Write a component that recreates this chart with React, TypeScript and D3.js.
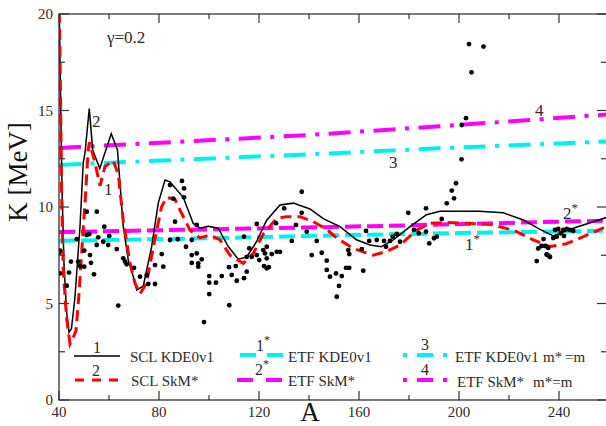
import React from "react";
import * as d3 from "d3";

type P = [number, number];

const xTicksMajor = [40, 80, 120, 160, 200, 240];
const xTicksMinor = [60, 100, 140, 180, 220, 260];
const yTicksMajor = [0, 5, 10, 15, 20];
const yTicksMinor = [2.5, 7.5, 12.5, 17.5];

// Experimental points (A, K)
const expPoints: P[] = [
  [40.0, 7.63], [40.4, 7.74], [40.4, 6.56], [44.0, 6.6], [43.1, 5.92], [44.8, 7.17], [47.1, 8.33], [47.7, 7.17],
  [48.4, 6.94], [50.1, 6.91], [50.1, 7.74], [51.1, 9.76], [51.1, 8.55], [52.1, 8.59], [52.4, 7.51], [52.8, 7.11],
  [54.0, 6.51], [55.1, 9.76], [55.7, 8.43], [55.1, 8.03], [58.1, 8.98], [57.7, 8.2], [60.1, 8.5], [59.7, 8.03],
  [63.1, 7.82], [63.7, 4.89], [65.7, 7.34], [66.4, 7.17], [67.1, 7.03], [70.0, 6.85], [72.4, 6.39], [75.1, 6.48],
  [75.7, 6.01], [78.4, 6.01], [78.4, 6.99], [81.1, 7.56], [81.7, 6.91], [84.4, 11.14], [86.4, 9.24], [84.4, 8.29],
  [85.7, 10.43], [89.2, 11.35], [90.0, 10.96], [90.0, 10.5], [87.5, 8.33], [90.8, 7.94], [93.1, 8.29], [93.1, 7.51],
  [93.1, 7.1], [95.1, 7.6], [95.7, 7.08], [95.1, 9.07], [97.1, 7.29], [95.7, 6.91], [100.1, 6.42], [100.1, 6.08],
  [102.8, 6.08], [105.1, 6.42], [100.1, 5.49], [108.1, 4.91], [98.0, 4.04], [108.0, 6.88], [109.1, 6.48], [110.7, 6.94],
  [111.1, 6.18], [114.0, 6.31], [115.1, 6.65], [115.1, 7.42], [114.0, 8.46], [116.1, 7.86], [117.1, 7.42], [119.1, 9.12],
  [119.1, 7.51], [120.1, 7.25], [121.7, 7.77], [123.1, 7.94], [122.4, 7.6], [123.1, 7.34], [122.0, 6.94], [123.1, 6.82],
  [123.9, 6.88], [125.1, 7.56], [127.1, 7.68], [128.4, 7.68], [126.8, 9.16], [130.1, 9.93], [133.1, 8.24], [134.8, 9.07],
  [137.1, 10.79], [137.1, 9.7], [139.1, 8.72], [141.1, 7.51], [143.1, 8.24], [145.1, 7.63], [147.1, 7.22], [147.1, 6.74],
  [148.4, 6.39], [150.8, 6.56], [153.1, 6.42], [152.0, 5.91], [151.1, 5.35], [154.8, 6.85], [156.1, 6.85], [155.7, 7.77],
  [156.1, 7.56], [161.1, 7.82], [161.7, 6.7], [162.8, 8.76], [164.1, 8.24], [167.1, 8.29], [170.0, 8.24], [170.8, 7.94],
  [172.4, 8.24], [173.5, 8.46], [175.1, 8.6], [176.4, 8.2], [179.7, 9.7], [182.0, 8.81], [183.9, 8.64], [186.8, 9.93],
  [186.8, 8.72], [188.1, 8.12], [190.0, 8.38], [191.1, 8.46], [193.1, 9.38], [195.1, 10.19], [197.1, 10.85], [198.0, 10.45],
  [198.8, 11.23], [201.0, 12.47], [201.1, 14.25], [202.8, 14.6], [205.0, 16.98], [204.0, 18.44], [209.8, 18.31],
  [231.1, 7.2], [231.7, 7.85], [233.0, 7.98], [233.8, 8.34], [234.4, 7.98], [235.0, 7.54], [235.7, 7.49], [236.4, 7.41],
  [235.7, 7.88], [237.7, 8.39], [238.4, 8.81], [239.1, 8.46], [239.7, 8.86], [240.7, 8.64], [241.7, 8.81], [242.0, 8.5],
  [243.1, 8.86], [244.4, 8.81], [245.7, 8.76],
];

// 1: SCL KDE0v1
const sclKde: P[] = [
  [40, 21], [40.6, 16], [41.2, 11], [42, 7], [43, 4.6], [44, 3.5], [45, 3.7], [46.4, 5.35], [48.4, 9], [49.7, 12.3],
  [50.4, 12.8], [52.1, 15.1], [53.5, 12.95], [56.3, 12.0], [60.9, 13.8], [63.4, 12.95], [65.7, 9.0], [67.7, 7.25],
  [69.7, 6.4], [71.1, 5.7], [73.7, 5.9], [77, 7.9], [79.7, 10.2], [82.4, 11.4], [84.4, 11.3], [89.7, 10.5], [93.7, 9.15],
  [96.4, 8.9], [99.7, 9.0], [103.7, 8.9], [107.7, 7.95], [111.7, 7.3], [115, 7.4], [119, 8.2], [123, 9.3], [128.4, 10.1],
  [133.7, 10.2], [140.4, 9.9], [145.7, 9.4], [152.4, 8.98], [159, 8.3], [164.4, 8.03], [169, 7.94], [173.7, 8.3],
  [180.4, 8.98], [187, 9.6], [192.4, 9.78], [208, 9.78], [217.7, 9.7], [225.7, 9.33], [232.4, 8.84], [237.7, 8.5],
  [245.7, 8.9], [260, 9.5],
];

// 2: SCL SkM*
const sclSkm: P[] = [
  [40, 21], [40.5, 17], [41, 11], [41.7, 6.7], [43, 4.3], [44.4, 2.9], [45.6, 3.2], [46.8, 3.6], [48, 5.5], [49, 7.5],
  [50.4, 10.2], [51.7, 13.0], [52.2, 13.35], [54.4, 12.3], [56.4, 11.1], [58.4, 12.1], [61.7, 12.4], [63.7, 11.7],
  [65.7, 9.3], [68.4, 7.1], [70.4, 6.05], [72.4, 5.5], [75, 6.05], [77.7, 7.9], [81, 10.0], [83, 10.5], [86.4, 10.4],
  [88.4, 9.84], [92.4, 8.8], [96.4, 8.4], [100.4, 8.55], [104.4, 8.3], [108.4, 7.5], [113.7, 7.08], [117.7, 7.6],
  [121.7, 8.6], [127, 9.4], [131, 9.5], [136.4, 9.5], [141.7, 9.24], [147, 8.85], [151, 8.4], [157.7, 7.85],
  [165.7, 7.5], [171, 7.7], [176.4, 8.03], [183, 8.8], [188.4, 9.15], [195, 9.2], [212.4, 9.1], [221.7, 8.8],
  [229.7, 8.3], [236.4, 7.95], [243, 8.1], [249.7, 8.46], [260, 9.05],
];

// 1*: ETF KDE0v1, 2*: ETF SkM*, 3: ETF KDE0v1 m*=m, 4: ETF SkM* m*=m
const etfKde: P[] = [[40, 8.25], [100, 8.38], [150, 8.53], [200, 8.65], [260, 8.77]];
const etfSkm: P[] = [[40, 8.7], [100, 8.84], [170, 9.02], [240, 9.24], [260, 9.29]];
const etfKdeM: P[] = [[40, 12.18], [140, 12.73], [192, 13.04], [260, 13.4]];
const etfSkmM: P[] = [[40, 13.06], [140, 13.73], [192, 14.18], [260, 14.8]];

const legendNames = ["SCL KDE0v1", "SCL SkM*", "ETF KDE0v1", "ETF SkM*", "ETF KDE0v1", "ETF SkM*"];

const FONT = "Liberation Serif, Times New Roman, Times, DejaVu Serif, serif";
const AX = "#333";
const TXT = "#2a2a2a";
const RED = "#ff0000";
const CYAN = "#00f0f0";
const MAG = "#ff00ff";

export default function App() {
  const W = 606;
  const H = 426;
  const x = d3.scaleLinear().domain([40, 260]).range([59, 609]);
  const y = d3.scaleLinear().domain([0, 20]).range([400, 14]);
  const line = d3
    .line<P>()
    .x((d) => x(d[0]))
    .y((d) => y(d[1]))
    .curve(d3.curveLinear);

  const [x0, x1] = x.range();
  const [y0, y1] = y.range();
  const tf = { fontFamily: FONT };

  return (
    <svg
      width={W}
      height={H}
      viewBox={`0 0 ${W} ${H}`}
      style={{ position: "absolute", left: 0, top: 0, background: "#fff", fontFamily: FONT }}
    >
      <defs>
        <clipPath id="plotclip">
          <rect x={x0} y={y1} width={x1 - x0} height={y0 - y1} />
        </clipPath>
      </defs>

      <g clipPath="url(#plotclip)">
        <path d={line(etfSkmM) || ""} fill="none" stroke={MAG} strokeWidth={4} strokeDasharray="22 9.5 4 9.5" />
        <path d={line(etfKdeM) || ""} fill="none" stroke={CYAN} strokeWidth={4} strokeDasharray="22 9.5 4 9.5" />
        <path d={line(etfSkm) || ""} fill="none" stroke={MAG} strokeWidth={4} strokeDasharray="16 6" />
        <path d={line(etfKde) || ""} fill="none" stroke={CYAN} strokeWidth={4} strokeDasharray="16 6" />
        <path d={line(sclKde) || ""} fill="none" stroke="#000" strokeWidth={1.5} strokeLinejoin="miter" />
        <path d={line(sclSkm) || ""} fill="none" stroke={RED} strokeWidth={3} strokeDasharray="11 6" />
        {expPoints.map((d, i) => (
          <circle key={i} cx={x(d[0])} cy={y(d[1])} r={2.4} fill="#000" />
        ))}
      </g>

      <rect x={x0} y={y1} width={x1 - x0} height={y0 - y1} fill="none" stroke={AX} strokeWidth={1.3} />

      {xTicksMajor.map((t) => (
        <g key={"xm" + t}>
          <line x1={x(t)} x2={x(t)} y1={y0} y2={y0 - 9} stroke={AX} strokeWidth={1.2} />
          <line x1={x(t)} x2={x(t)} y1={y1} y2={y1 + 9} stroke={AX} strokeWidth={1.2} />
          <text x={x(t)} y={417} fontSize={15} textAnchor="middle" fill={TXT} style={tf}>
            {t}
          </text>
        </g>
      ))}
      {xTicksMinor.map((t) => (
        <g key={"xn" + t}>
          <line x1={x(t)} x2={x(t)} y1={y0} y2={y0 - 5} stroke={AX} strokeWidth={1.2} />
          <line x1={x(t)} x2={x(t)} y1={y1} y2={y1 + 5} stroke={AX} strokeWidth={1.2} />
        </g>
      ))}

      {yTicksMajor.map((t) => (
        <g key={"ym" + t}>
          <line x1={x0} x2={x0 + 10} y1={y(t)} y2={y(t)} stroke={AX} strokeWidth={1.2} />
          <line x1={x1} x2={x1 - 12} y1={y(t)} y2={y(t)} stroke={AX} strokeWidth={1.2} />
          <text x={53} y={y(t) + 5} fontSize={15} textAnchor="end" fill={TXT} style={tf}>
            {t}
          </text>
        </g>
      ))}
      {yTicksMinor.map((t) => (
        <g key={"yn" + t}>
          <line x1={x0} x2={x0 + 6} y1={y(t)} y2={y(t)} stroke={AX} strokeWidth={1.2} />
          <line x1={x1} x2={x1 - 8} y1={y(t)} y2={y(t)} stroke={AX} strokeWidth={1.2} />
        </g>
      ))}

      <text x={310} y={421} fontSize={27} textAnchor="middle" fill="#111" style={tf}>
        A
      </text>
      <text transform="translate(27,172) rotate(-90)" fontSize={27} textAnchor="middle" fill="#111" style={tf}>
        K [MeV]
      </text>

      <text x={107} y={43} fontSize={17} fill={TXT} style={tf}>
        γ=0.2
      </text>

      <text x={92} y={127} fontSize={17} fill={TXT} style={tf}>2</text>
      <text x={104} y={195} fontSize={17} fill={TXT} style={tf}>1</text>
      <text x={389} y={168} fontSize={17} fill={TXT} style={tf}>3</text>
      <text x={535} y={116} fontSize={17} fill={TXT} style={tf}>4</text>
      <text x={563} y={219} fontSize={17} fill={TXT} style={tf}>
        2<tspan dy={-7} fontSize={13}>*</tspan>
      </text>
      <text x={465} y={250} fontSize={17} fill={TXT} style={tf}>
        1<tspan dy={-7} fontSize={13}>*</tspan>
      </text>

      <g>
        <line x1={74} x2={120} y1={356} y2={356} stroke="#000" strokeWidth={1.5} />
        <text x={97} y={353} fontSize={16} textAnchor="middle" fill={TXT} style={tf}>1</text>
        <text x={130} y={362} fontSize={15} fill={TXT} style={tf}>{legendNames[0]}</text>
        <line x1={75} x2={122} y1={380} y2={380} stroke={RED} strokeWidth={3} strokeDasharray="9 8" />
        <text x={96} y={376} fontSize={16} textAnchor="middle" fill={TXT} style={tf}>2</text>
        <text x={131} y={386} fontSize={15} fill={TXT} style={tf}>{legendNames[1]}</text>

        <line x1={240} x2={283} y1={355} y2={355} stroke={CYAN} strokeWidth={4} strokeDasharray="16 11" />
        <text x={256} y={351} fontSize={16} fill={TXT} style={tf}>
          1<tspan dy={-7} fontSize={12}>*</tspan>
        </text>
        <text x={288} y={362} fontSize={15} fill={TXT} style={tf}>{legendNames[2]}</text>
        <line x1={237} x2={282} y1={380} y2={380} stroke={MAG} strokeWidth={4} strokeDasharray="16 13" />
        <text x={255} y={375} fontSize={16} fill={TXT} style={tf}>
          2<tspan dy={-7} fontSize={12}>*</tspan>
        </text>
        <text x={288} y={386} fontSize={15} fill={TXT} style={tf}>{legendNames[3]}</text>

        <line x1={403} x2={447} y1={355} y2={355} stroke={CYAN} strokeWidth={4} strokeDasharray="4 10 16 10 4" />
        <text x={425} y={350} fontSize={16} textAnchor="middle" fill={TXT} style={tf}>3</text>
        <text x={455} y={362} fontSize={15} fill={TXT} style={tf}>{legendNames[4]}</text>
        <text x={543} y={362} fontSize={15} fill={TXT} style={tf}>m*</text>
        <text x={565} y={362} fontSize={15} fill={TXT} style={tf}>=m</text>
        <line x1={403} x2={447} y1={380} y2={380} stroke={MAG} strokeWidth={4} strokeDasharray="4 10 16 10 4" />
        <text x={425} y={375} fontSize={16} textAnchor="middle" fill={TXT} style={tf}>4</text>
        <text x={457} y={387} fontSize={15} fill={TXT} style={tf}>{legendNames[5]}</text>
        <text x={533} y={387} fontSize={15} fill={TXT} style={tf}>m*=m</text>
      </g>
    </svg>
  );
}
